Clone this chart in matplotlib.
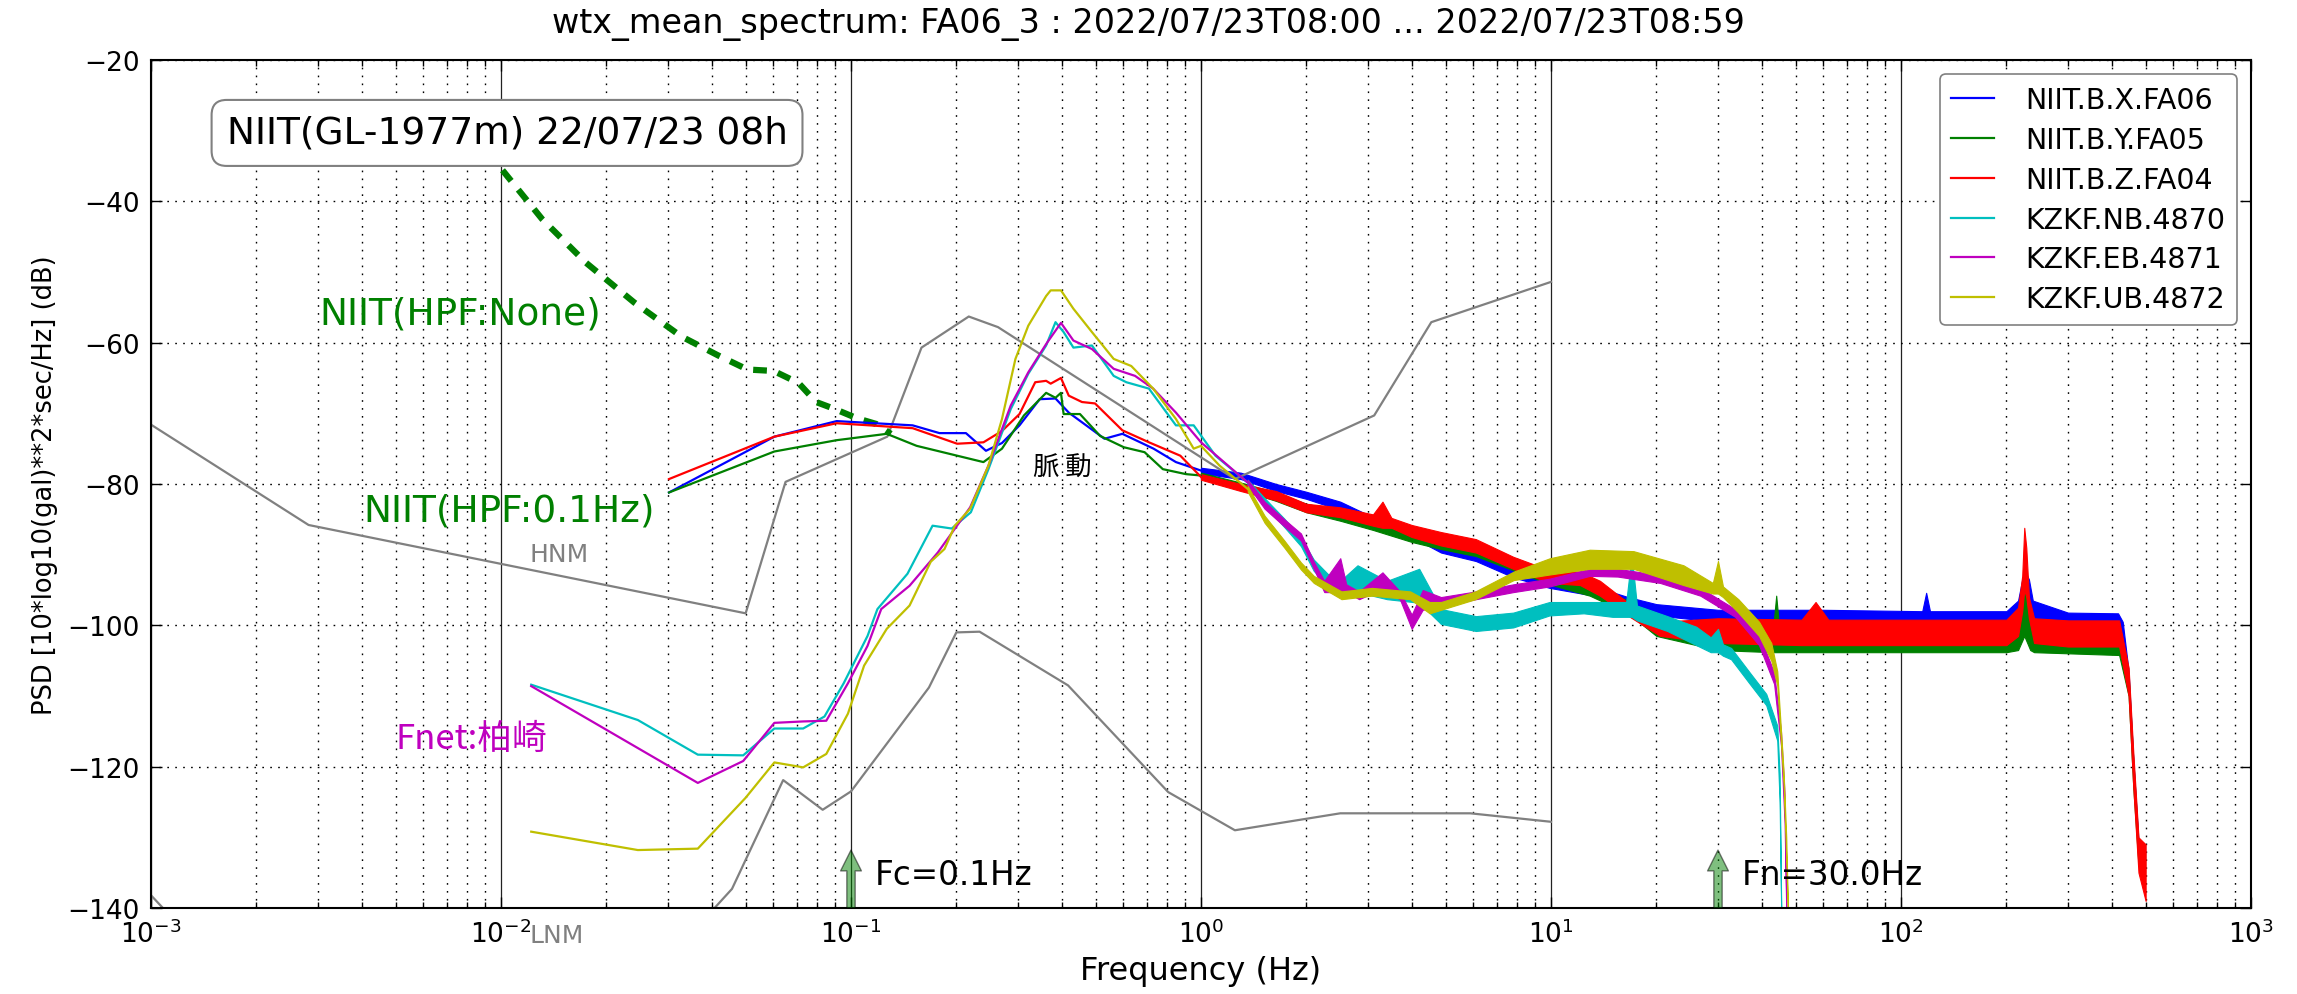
import matplotlib
matplotlib.use("Agg")
import matplotlib.pyplot as plt
from matplotlib.ticker import LogLocator, NullFormatter

plt.rcParams['font.family'] = ['DejaVu Sans', 'Noto Sans CJK JP']

# ---------------- data ----------------
hnm_f = [0.001, 0.00282, 0.05, 0.065, 0.127, 0.159, 0.217, 0.263, 1.25, 3.125, 4.55, 10.0]
hnm_db = [-71.6, -85.8, -98.3, -79.7, -73.3, -60.7, -56.3, -57.8, -79.3, -70.3, -57.1, -51.4]

lnm_f = [0.001, 0.00167, 0.0316, 0.0457, 0.064, 0.083, 0.1, 0.167, 0.2, 0.233, 0.417,
         0.806, 1.25, 2.5, 5.88, 10.0]
lnm_db = [-138.2, -150.0, -146.0, -137.3, -121.9, -126.1, -123.5, -108.8, -101.0, -100.9,
          -108.5, -123.6, -129.0, -126.6, -126.6, -127.8]

hpf_none_f = [0.0101, 0.0131, 0.0175, 0.024, 0.0327, 0.0417, 0.0506, 0.0601, 0.0708,
              0.0795, 0.090, 0.104, 0.118, 0.130]
hpf_none_db = [-35.6, -42.5, -48.7, -54.3, -59.1, -61.8, -63.8, -64.0, -65.7, -68.4,
               -69.4, -70.7, -71.5, -72.9]

# NIIT.B.X.FA06 (blue)
x_f = [0.0302, 0.0604, 0.091, 0.150, 0.179, 0.213, 0.243, 0.27, 0.303, 0.346, 0.384,
       0.419, 0.53, 0.596, 0.732, 0.848, 1.0]
x_db = [-81.2, -73.3, -71.1, -71.7, -72.8, -72.8, -75.3, -74.2, -71.7, -68.0, -67.9,
        -69.9, -73.6, -72.9, -75.0, -76.9, -78.1]
x_env_f = [1.0, 1.3, 1.64, 2.0, 2.5, 3.1, 4.0, 4.85, 6.1, 7.8, 9.9, 12.9, 16.6, 20, 30, 60,
           115, 118, 121, 124, 200, 216, 222, 227, 232, 238, 300, 417, 430, 447, 461, 477, 498]
x_env_lo = [-78.5, -79.3, -81.0, -82.1, -83.7, -85.9, -87.5, -89.7, -90.9, -93.2, -94.7,
            -95.7, -97.6, -98.6, -99.5, -99.8, -100, -100, -100, -100, -100, -99.5, -98,
            -97, -98, -99.5, -100, -100, -102, -108.5, -121, -132, -133]
x_env_hi = [-77.7, -78.4, -80.0, -81.1, -82.5, -84.7, -86.1, -88.3, -89.3, -91.8, -93.3,
            -94.3, -96.0, -97.0, -97.8, -97.8, -98.0, -95.4, -98, -98.0, -98.0, -96.5, -93.5,
            -92.5, -93.5, -96.5, -98.2, -98.3, -99.5, -106.5, -119, -130.5, -131]

# NIIT.B.Y.FA05 (green)
y_f = [0.0302, 0.0604, 0.091, 0.1265, 0.154, 0.239, 0.27, 0.312, 0.361, 0.384, 0.398,
       0.405, 0.451, 0.515, 0.602, 0.69, 0.778, 0.905, 1.0]
y_db = [-81.2, -75.4, -73.8, -72.9, -74.6, -76.9, -75.0, -70.3, -67.1, -67.8, -67.1,
        -70.1, -70.1, -73.2, -74.8, -75.5, -77.9, -78.6, -78.8]
y_env_f = [1.0, 1.3, 1.64, 2.0, 2.5, 3.1, 4.0, 4.85, 6.1, 7.8, 9.9, 12.9, 16.6, 20, 30, 43,
           44, 45, 100, 200, 216, 225, 234, 240, 420, 447, 461, 477, 498]
y_env_lo = [-79.2, -80.8, -82.4, -84.0, -85.2, -86.5, -88.2, -89.2, -90.2, -92.2, -94.2,
            -95.8, -98.3, -101.5, -103.5, -103.8, -103.8, -103.8, -103.8, -103.8, -103.5,
            -101.5, -103.5, -103.8, -104.2, -110, -123, -134, -135]
y_env_hi = [-78.4, -79.8, -81.2, -82.8, -83.8, -85.1, -86.6, -87.6, -88.6, -90.8, -92.8,
            -94.2, -96.5, -99.5, -100.8, -101.0, -95.8, -101.0, -101.0, -101.0, -100, -93,
            -100, -101.0, -101.2, -107, -119, -131, -132]

# NIIT.B.Z.FA04 (red)
z_f = [0.0302, 0.0604, 0.091, 0.150, 0.201, 0.239, 0.27, 0.303, 0.336, 0.361, 0.372,
       0.398, 0.419, 0.457, 0.498, 0.596, 0.710, 0.873, 1.0]
z_db = [-79.3, -73.3, -71.4, -72.1, -74.3, -74.1, -72.5, -70.1, -65.6, -65.4, -65.8,
        -65.0, -67.5, -68.4, -68.6, -72.4, -74.1, -76.0, -79.0]
z_env_f = [1.0, 1.3, 1.64, 2.0, 2.5, 3.1, 3.3, 3.5, 4.0, 4.85, 6.1, 7.8, 9.9, 12.1, 13.8,
           16.8, 20.5, 30, 52, 57, 62, 100, 200, 216, 222, 225, 228, 232, 240, 300, 420,
           447, 461, 477, 500]
z_env_lo = [-79.4, -81.0, -82.3, -84.0, -84.7, -85.9, -86.2, -86.2, -87.5, -88.7, -89.7,
            -92.0, -94.0, -94.3, -95.8, -98.8, -101.5, -102.5, -102.8, -102.8, -102.8,
            -102.8, -102.8, -101.5, -98, -95, -96, -99, -102.5, -103.0, -103.0, -110,
            -123, -135, -139]
z_env_hi = [-78.6, -80.0, -81.0, -82.8, -83.3, -84.3, -82.5, -84.8, -85.8, -86.8, -87.8,
            -90.3, -92.2, -92.4, -93.7, -97.0, -99.5, -99.0, -99.2, -96.7, -99.2, -99.2,
            -99.2, -97.5, -93, -86.2, -89, -96, -99, -99.3, -99.3, -106, -118, -130, -131]

# KZKF.NB.4870 (cyan)
nb_f = [0.0122, 0.0246, 0.0365, 0.0492, 0.0604, 0.073, 0.084, 0.0953, 0.1115, 0.119,
        0.145, 0.171, 0.194, 0.220, 0.247, 0.286, 0.321, 0.361, 0.384, 0.405, 0.432,
        0.488, 0.563, 0.612, 0.710, 0.848, 0.953, 1.1, 1.36]
nb_db = [-108.4, -113.4, -118.3, -118.4, -114.6, -114.6, -112.9, -108.2, -101.5, -97.7,
         -92.7, -85.9, -86.3, -84.0, -77.9, -69.4, -64.4, -60.4, -57.1, -58.5, -60.7,
         -60.4, -64.7, -65.6, -66.5, -71.7, -71.7, -76.0, -79.8]
nb_env_f = [1.36, 1.52, 1.73, 1.93, 2.1, 2.3, 2.5, 2.8, 3.4, 4.2, 4.85, 6.1, 7.8, 9.9,
            12.4, 15, 16.4, 17.0, 17.6, 21.5, 26, 28.6, 30, 31, 32.7, 37, 41.2, 44.3, 45, 45.6]
nb_env_lo = [-80.2, -83.0, -86.1, -88.8, -92.3, -94.3, -95.3, -95.3, -96.3, -96.8, -99.8,
             -100.8, -100.3, -98.6, -98.3, -98.8, -98.8, -98.8, -99.3, -100.8, -102.8, -103.8,
             -103.8, -104.3, -104.8, -108.3, -111.3, -116.3, -125, -145]
nb_env_hi = [-79.4, -82.0, -84.9, -87.6, -90.7, -92.7, -93.7, -91.5, -93.7, -92, -97.7,
             -98.7, -98.2, -96.7, -96.7, -96.7, -96.7, -90, -97.2, -98.7, -100.2, -101.7,
             -100.5, -102.7, -103.2, -106.7, -109.7, -114.2, -121, -145]

# KZKF.EB.4871 (magenta)
eb_f = [0.0122, 0.0365, 0.0492, 0.0604, 0.073, 0.085, 0.098, 0.1115, 0.122, 0.147, 0.177,
        0.219, 0.247, 0.286, 0.321, 0.361, 0.398, 0.432, 0.488, 0.563, 0.648, 0.73, 0.848,
        1.0, 1.36]
eb_db = [-108.6, -122.3, -119.2, -113.8, -113.6, -113.5, -108.2, -102.9, -97.7, -94.4,
         -89.7, -83.3, -77.4, -68.9, -64.2, -60.2, -57.2, -59.7, -60.9, -63.7, -64.7,
         -66.5, -69.9, -74.1, -79.8]
eb_env_f = [1.36, 1.52, 1.73, 1.93, 2.1, 2.25, 2.5, 2.6, 2.83, 3.3, 3.7, 4.0, 4.3, 4.85,
            6.1, 7.8, 9.9, 12.9, 15.5, 20.5, 26.7, 33.6, 39.3, 43.4, 45.4, 46.5, 47.2]
eb_env_lo = [-80.2, -83.5, -86.0, -88.0, -92.0, -95.3, -95.3, -95.3, -96.3, -94.8, -96.3,
             -100.5, -97.8, -97.3, -96.3, -95.3, -94.5, -93.0, -93.1, -94.0, -95.8, -98.8,
             -102.8, -108.3, -117, -128, -145]
eb_env_hi = [-79.4, -82.5, -85.0, -87.0, -91.0, -93.7, -90.5, -94.2, -95.2, -92.5, -95.2,
             -98.5, -95, -96.0, -95.2, -94.2, -93.4, -92.0, -92.0, -92.9, -94.7, -97.7,
             -101.2, -106.7, -115, -124, -145]

# KZKF.UB.4872 (yellow)
ub_f = [0.0122, 0.0246, 0.0365, 0.050, 0.0604, 0.073, 0.085, 0.098, 0.109, 0.1265, 0.147,
        0.169, 0.185, 0.198, 0.219, 0.247, 0.270, 0.295, 0.321, 0.361, 0.372, 0.398,
        0.432, 0.488, 0.563, 0.632, 0.73, 0.848, 0.953, 1.0, 1.13, 1.36]
ub_db = [-129.2, -131.8, -131.6, -124.4, -119.4, -120.1, -118.2, -112.5, -105.7, -100.5,
         -97.2, -91.0, -89.2, -85.9, -83.5, -77.4, -70.8, -62.3, -57.6, -53.4, -52.6,
         -52.6, -55.2, -58.5, -62.3, -63.3, -66.5, -70.8, -75.0, -74.6, -77.4, -80.7]
ub_env_f = [1.36, 1.52, 1.73, 1.93, 2.1, 2.52, 3.08, 3.96, 4.5, 4.85, 6.08, 7.82, 9.93,
            12.9, 17.2, 23.9, 29, 30, 31, 34.3, 39.3, 42.6, 44.3, 46.2, 47, 47.8]
ub_env_lo = [-81.1, -85.5, -89.0, -92.1, -94.0, -96.3, -95.8, -96.3, -98.3, -97.8, -96.3,
             -93.6, -92.8, -92.0, -92.0, -94.3, -95.5, -95.5, -96, -98.2, -101.5, -105,
             -108.5, -122.5, -133, -145]
ub_env_hi = [-80.3, -84.5, -88.0, -91.1, -93.0, -95.2, -94.7, -95.2, -96.7, -96.7, -95.2,
             -92.4, -90.5, -89.3, -89.5, -91.5, -94, -90.9, -94.5, -96.3, -99.5, -102.5,
             -106.5, -120.8, -130, -145]

labels = ['NIIT.B.X.FA06', 'NIIT.B.Y.FA05', 'NIIT.B.Z.FA04',
          'KZKF.NB.4870', 'KZKF.EB.4871', 'KZKF.UB.4872']
colors = ['#0000ff', '#008000', '#ff0000', '#00bfbf', '#bf00bf', '#bfbf00']

title = 'wtx_mean_spectrum: FA06_3 : 2022/07/23T08:00 ... 2022/07/23T08:59'
info_text = 'NIIT(GL-1977m) 22/07/23 08h'
fc_hz = 0.1
fn_hz = 30.0

# ---------------- figure ----------------
fig = plt.figure(figsize=(22.97, 9.95), dpi=100)
ax = fig.add_axes([151 / 2297, 1 - 909 / 995, 2100 / 2297, 848 / 995])
ax.set_xscale('log')
ax.set_xlim(1e-3, 1e3)
ax.set_ylim(-140, -20)
ax.set_yticks(range(-140, -19, 20))
ax.xaxis.set_minor_locator(LogLocator(base=10, subs=range(2, 10), numticks=20))
ax.xaxis.set_minor_formatter(NullFormatter())

dot = (0, (1.2, 4.5))
ax.grid(True, which='major', axis='y', linestyle=dot, color='k', lw=1.0)
ax.grid(True, which='minor', axis='x', linestyle=dot, color='k', lw=1.0)
ax.grid(True, which='major', axis='x', linestyle='-', color='#222222', lw=0.9)
ax.set_axisbelow(True)

ax.tick_params(which='both', direction='in', top=True, right=True, width=1)
ax.tick_params(which='major', length=8, labelsize=19, pad=8)
ax.tick_params(which='minor', length=4)
for s in ax.spines.values():
    s.set_linewidth(1.5)

# noise models
ax.plot(hnm_f, hnm_db, color='#808080', lw=1.6)
ax.plot(lnm_f, lnm_db, color='#808080', lw=1.6)

# HPF none (dashed)
ax.plot(hpf_none_f, hpf_none_db, color='#008000', lw=4.5, linestyle=(0, (2.2, 1.8)))

series = [
    (x_f, x_db, x_env_f, x_env_lo, x_env_hi),
    (y_f, y_db, y_env_f, y_env_lo, y_env_hi),
    (z_f, z_db, z_env_f, z_env_lo, z_env_hi),
    (nb_f, nb_db, nb_env_f, nb_env_lo, nb_env_hi),
    (eb_f, eb_db, eb_env_f, eb_env_lo, eb_env_hi),
    (ub_f, ub_db, ub_env_f, ub_env_lo, ub_env_hi),
]
handles = []
for (f, d, ef, elo, ehi), lab, c in zip(series, labels, colors):
    h, = ax.plot(f, d, color=c, lw=1.6, label=lab)
    ax.fill_between(ef, elo, ehi, color=c, lw=0.8, edgecolor=c)
    handles.append(h)

leg = ax.legend(handles=handles, loc='upper right', fontsize=20.5, handlelength=1.5,
                handletextpad=1.1, labelspacing=0.42, borderaxespad=0.5, fancybox=True,
                framealpha=1.0, edgecolor='#808080')
leg.get_frame().set_linewidth(1.2)

# annotations
ax.text(0.036, 0.914, info_text, transform=ax.transAxes, fontsize=27, va='center',
        ha='left', bbox=dict(boxstyle='round,pad=0.4', fc='white', ec='#808080', lw=1.5))
ax.text(0.00303, -55.9, 'NIIT(HPF:None)', color='#008000', fontsize=27, va='center')
ax.text(0.00404, -83.7, 'NIIT(HPF:0.1Hz)', color='#008000', fontsize=27, va='center')
ax.text(0.0121, -89.9, 'HNM', color='#808080', fontsize=18, va='center')
ax.text(0.0121, -143.8, 'LNM', color='#808080', fontsize=18, va='center', clip_on=False)
ax.text(0.00501, -116.0, 'Fnet:柏崎', color='#bf00bf', fontsize=25, va='center',
        family=['Noto Sans CJK JP', 'DejaVu Sans'])
ax.text(0.331, -77.6, '脈 動', color='k', fontsize=19, va='center',
        family=['Noto Sans CJK JP', 'DejaVu Sans'])

for fx, txt in [(fc_hz, 'Fc=%.1fHz' % fc_hz), (fn_hz, 'Fn=%.1fHz' % fn_hz)]:
    ax.annotate('', xy=(fx, -131.8), xytext=(fx, -140),
                arrowprops=dict(facecolor='green', edgecolor='black', alpha=0.5,
                                width=6, headwidth=15, headlength=15, shrink=0.0))
    ax.text(fx * 1.17, -135.3, txt, fontsize=23.5, va='center', ha='left')

ax.set_xlabel('Frequency (Hz)', fontsize=23, labelpad=5)
ax.set_ylabel('PSD [10*log10(gal)**2*sec/Hz] (dB)', fontsize=18.5, labelpad=7)
fig.suptitle(title, fontsize=24, y=0.992, va='top')

fig.savefig('out.png', dpi=100)
